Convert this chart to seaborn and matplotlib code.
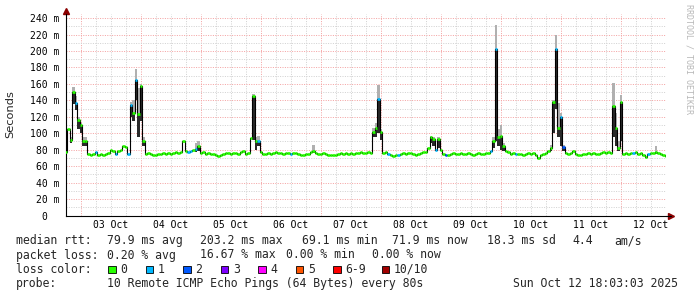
import numpy as np
import pandas as pd
import matplotlib
matplotlib.use("Agg")
import matplotlib.pyplot as plt
from matplotlib.patches import Rectangle
import seaborn as sns

# ---- data (hourly samples, hour 0 = Oct 2 18:00, hour 240 = Oct 12 18:00) ----
median_ms = [
    77, 105, 92, 150, 137, 116, 110, 90, 91, 75,
    74, 75, 77, 74, 75, 74, 75, 76, 80, 79,
    75, 78, 80, 84, 83, 75, 134, 125, 165, 123,
    157, 90, 75, 76, 75, 73, 74, 75, 75, 76,
    75, 76, 75, 76, 77, 76, 77, 90, 78, 77,
    79, 80, 81, 84, 76, 77, 75, 76, 75, 75,
    74, 72, 74, 75, 76, 76, 75, 76, 76, 75,
    77, 79, 75, 76, 94, 145, 90, 91, 77, 75,
    75, 76, 75, 76, 77, 76, 76, 75, 76, 76,
    75, 76, 76, 75, 74, 74, 75, 75, 77, 79,
    76, 75, 75, 76, 75, 74, 73, 73, 74, 75,
    76, 75, 76, 75, 76, 75, 76, 76, 77, 76,
    76, 77, 76, 102, 106, 142, 102, 76, 77, 75,
    73, 72, 73, 73, 75, 76, 75, 76, 76, 75,
    74, 75, 76, 77, 77, 82, 95, 93, 80, 93,
    80, 75, 73, 74, 75, 76, 75, 75, 76, 75,
    75, 76, 75, 74, 75, 76, 75, 75, 76, 76,
    79, 90, 202, 96, 97, 84, 78, 77, 75, 76,
    75, 75, 75, 74, 75, 76, 75, 76, 74, 70,
    74, 75, 76, 79, 82, 138, 203, 106, 120, 83,
    76, 75, 76, 78, 75, 73, 74, 75, 75, 76,
    75, 76, 75, 75, 76, 77, 76, 77, 76, 133,
    106, 82, 138, 75, 76, 75, 76, 76, 77, 75,
    76, 74, 71, 75, 76, 76, 77, 76, 75, 74,
    72,
]
loss_hours = [4, 12, 20, 25, 26, 28, 49, 50, 52, 77, 90, 125, 129, 133, 148, 152,
               170, 172, 180, 196, 198, 199, 227, 233]
loss_count = [1, 1, 1, 1, 1, 1, 1, 1, 1, 1, 1, 1, 1, 1, 1, 2,
              1, 1, 1, 1, 1, 2, 1, 1]
smoke_hours = [2, 3, 4, 5, 6, 7, 8, 26, 27, 28, 29, 30, 31, 52, 53, 75, 76, 77, 99,
               123, 124, 125, 126, 146, 147, 149, 171, 172, 173, 174, 175,
               194, 195, 196, 197, 198, 199, 219, 220, 221, 222, 236]
smoke_lo = [88, 135, 128, 105, 100, 85, 85, 120, 115, 140, 95, 115, 85, 77, 79, 92, 80, 85, 76,
            95, 96, 100, 92, 88, 85, 82, 82, 90, 85, 80, 78,
            78, 100, 130, 95, 85, 78, 95, 85, 78, 90, 75]
smoke_hi = [96, 156, 145, 120, 113, 95, 95, 138, 140, 178, 155, 160, 95, 88, 90, 148, 95, 97, 86,
            106, 112, 159, 105, 97, 95, 95, 96, 232, 105, 110, 88,
            86, 140, 220, 137, 125, 86, 161, 125, 90, 147, 84]
day_labels = ["03 Oct", "04 Oct", "05 Oct", "06 Oct", "07 Oct",
              "08 Oct", "09 Oct", "10 Oct", "11 Oct", "12 Oct"]
y_ticks = [0, 20, 40, 60, 80, 100, 120, 140, 160, 180, 200, 220, 240]
loss_levels = ["0", "1", "2", "3", "4", "5", "6-9", "10/10"]
loss_colors = ["#26ff00", "#00b8ff", "#0059ff", "#7e00ff", "#ff00ff", "#ff5500", "#ff0000", "#a10000"]

# ---- figure ----
W, H = 697, 297
sns.set_style("white")
plt.rcParams['font.family'] = ['DejaVu Sans Mono', 'DejaVu Sans']

fig = plt.figure(figsize=(W / 100, H / 100), dpi=100)
fig.patch.set_facecolor("white")

def fx(px):
    return px / W

def fy(py):
    return 1 - py / H

ax = fig.add_axes([fx(66), fy(215.5), 600 / W, (215.5 - 14) / H])
ax.set_facecolor("white")

n = len(median_ms)
hours = np.arange(n)
ymax = 245
ax.set_xlim(0, n - 1)
ax.set_ylim(0, ymax)

# grid
px = 0.72
minor_c = "#d2d2d2"
major_c = "#f4a4a4"
for h in range(0, n, 6):
    is_mid = (h - 6) % 24 == 0
    ax.axvline(h, color=major_c if is_mid else minor_c, lw=px, ls=(0, (1, 1.4)), zorder=0)
for v in range(10, 245, 10):
    ax.axhline(v, color=major_c if v % 20 == 0 else minor_c, lw=px, ls=(0, (1, 1.4)), zorder=0)

# smoke: light outer range, dark core up to the median
lo = np.array(smoke_lo)
hi = np.array(smoke_hi)
ax.bar(smoke_hours, hi - lo, bottom=lo, width=1.0, color="#b0b0b0", linewidth=0, zorder=2)
med_at = np.array([median_ms[h] for h in smoke_hours])
core_top = np.maximum(med_at, lo)
ax.bar(smoke_hours, core_top - lo, bottom=lo, width=0.9, color="#2a2a2a", linewidth=0, zorder=2.5)

# median black step line
df = pd.DataFrame({"hour": hours, "median": median_ms})
sns.lineplot(data=df, x="hour", y="median", ax=ax, color="black", lw=0.8,
             drawstyle="steps-mid", zorder=3, legend=False)

# colored median bands by loss
loss_full = np.zeros(n, dtype=int)
for h, c in zip(loss_hours, loss_count):
    loss_full[h] = c
cols = [loss_colors[c] for c in loss_full]
ax.hlines(median_ms, hours - 0.5, hours + 0.5, colors=cols, lw=1.9, zorder=4)

# axes styling
for s in ["top", "right"]:
    ax.spines[s].set_visible(False)
for s in ["left", "bottom"]:
    ax.spines[s].set_color("black")
    ax.spines[s].set_linewidth(0.8)
ax.set_xlabel("")
ax.set_ylabel("")

label_hours = [18 + 24 * k for k in range(len(day_labels))]
ax.set_xticks(label_hours)
ax.set_xticklabels(day_labels)
ax.set_yticks(y_ticks)
ax.set_yticklabels([f"{v} m" if v else "0\u00a0\u00a0" for v in y_ticks])
ax.tick_params(axis="x", length=0, pad=3.5, labelsize=7, colors="black")
ax.tick_params(axis="y", length=0, pad=4.8, labelsize=7, colors="black")

# axis arrows
ax.plot([1.0075], [0], marker=">", ms=4, color="#8b0000", transform=ax.transAxes, clip_on=False)
ax.plot([0], [1.016], marker="^", ms=4, color="#8b0000", transform=ax.transAxes, clip_on=False)
ax.plot([1.0, 1.0075], [0, 0], color="black", lw=0.8, transform=ax.transAxes, clip_on=False)

# y label and watermark
fig.text(fx(10), fy(114), "Seconds", rotation=90, ha="center", va="center",
         fontsize=8.2, family="DejaVu Sans")
fig.text(fx(688.5), fy(4), "RRDTOOL / TOBI OETIKER", rotation=270, ha="center", va="top",
         fontsize=6.0, color="#b8b8b8")

# legend lines
fs = 8.3
line1 = [(16, "median rtt:"), (107, "79.9 ms avg"), (200, "203.2 ms max"), (302, "69.1 ms min"),
         (392, "71.9 ms now"), (487, "18.3 ms sd"), (572, "4.4"), (614, "am/s")]
line2 = [(16, "packet loss:"), (107, "0.20 % avg"), (200, "16.67 % max"), (286, "0.00 % min"),
         (372, "0.00 % now")]
line4 = [(16, "probe:"), (107, "10 Remote ICMP Echo Pings (64 Bytes) every 80s"),
         (513, "Sun Oct 12 18:03:03 2025")]
for y, items in [(240.7, line1), (255.0, line2), (283.3, line4)]:
    for x, t in items:
        fig.text(fx(x), fy(y), t, ha="left", va="center", fontsize=fs)
fig.text(fx(16), fy(269.2), "loss color:", ha="left", va="center", fontsize=fs)
box_x = [108.3, 145.8, 183.3, 220.8, 258.3, 295.8, 333.3, 381.7]
for bx, lab, c in zip(box_x, loss_levels, loss_colors):
    fig.patches.append(Rectangle((fx(bx), fy(273)), 7.5 / W, 7.5 / H, transform=fig.transFigure,
                                 facecolor=c, edgecolor="black", lw=0.6))
    fig.text(fx(bx + 12), fy(269.2), lab, ha="left", va="center", fontsize=fs)

fig.savefig("out.png", dpi=100, facecolor="white")
